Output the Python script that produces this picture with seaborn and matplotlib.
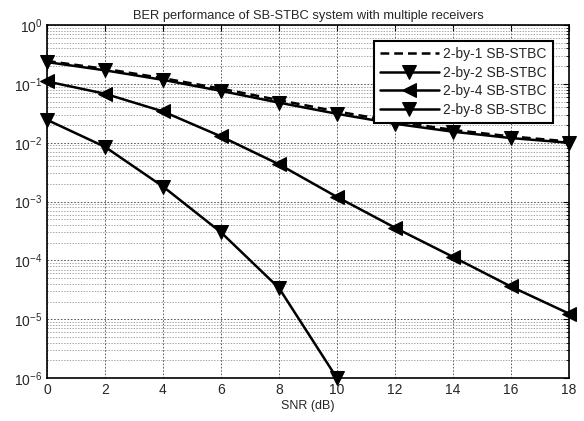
import numpy as np
import pandas as pd
import matplotlib
matplotlib.use("Agg")
import matplotlib.pyplot as plt
import matplotlib.ticker as mticker
import seaborn as sns

# SNR points (dB)
snr = [0, 2, 4, 6, 8, 10, 12, 14, 16, 18]
snr_8 = [0, 2, 4, 6, 8, 10]

# Bit error rates for each receiver configuration
ber_2x1 = [0.245, 0.18, 0.125, 0.083, 0.053, 0.034, 0.023, 0.0165, 0.0128, 0.0105]
ber_2x2 = [0.235, 0.17, 0.117, 0.076, 0.048, 0.031, 0.021, 0.0154, 0.012, 0.0100]
ber_2x4 = [0.11, 0.068, 0.034, 0.0128, 0.0043, 0.0012, 3.6e-4, 1.15e-4, 3.6e-5, 1.25e-5]
ber_2x8 = [0.0245, 0.0085, 0.0018, 3.0e-4, 3.4e-5, 1.0e-6]

labels = ["2-by-1 SB-STBC", "2-by-2 SB-STBC", "2-by-4 SB-STBC", "2-by-8 SB-STBC"]

df = pd.concat([
    pd.DataFrame({"SNR": snr, "BER": ber_2x1, "scheme": labels[0]}),
    pd.DataFrame({"SNR": snr, "BER": ber_2x2, "scheme": labels[1]}),
    pd.DataFrame({"SNR": snr, "BER": ber_2x4, "scheme": labels[2]}),
    pd.DataFrame({"SNR": snr_8, "BER": ber_2x8, "scheme": labels[3]}),
], ignore_index=True)

sns.set_style("white")
plt.rcParams["font.family"] = ["Liberation Sans", "DejaVu Sans"]
plt.rcParams["mathtext.default"] = "regular"

fig = plt.figure(figsize=(5.84, 4.21), dpi=100)
ax = fig.add_axes([0.0805, 0.102, 0.8935, 0.8385])

styles = {
    labels[0]: dict(linestyle=(0, (3.5, 2)), marker=None),
    labels[1]: dict(linestyle="-", marker="v"),
    labels[2]: dict(linestyle="-", marker="<"),
    labels[3]: dict(linestyle="-", marker="v"),
}

for name in labels:
    sub = df[df["scheme"] == name]
    st = styles[name]
    sns.lineplot(data=sub, x="SNR", y="BER", ax=ax, color="black",
                 linewidth=1.8, linestyle=st["linestyle"], marker=st["marker"],
                 markersize=9.5, markeredgecolor="black", markerfacecolor="black",
                 label=name, clip_on=False, zorder=3)

ax.set_yscale("log")
ax.set_xlim(0, 18)
ax.set_ylim(1e-6, 1)
ax.set_xticks(range(0, 19, 2))
ax.yaxis.set_major_locator(mticker.LogLocator(base=10, numticks=10))
ax.yaxis.set_minor_locator(mticker.LogLocator(base=10, subs=np.arange(2, 10), numticks=20))
ax.yaxis.set_minor_formatter(mticker.NullFormatter())

ax.grid(True, which="major", axis="both", color="#444444", linestyle=(0, (2, 2)), linewidth=0.6)
ax.grid(True, which="minor", axis="y", color="#808080", linestyle=(0, (2, 2)), linewidth=0.5)

ax.tick_params(which="both", direction="in", top=True, right=True, labelsize=10, color="black")
ax.tick_params(which="major", length=4)
ax.tick_params(which="minor", length=2)
for s in ax.spines.values():
    s.set_color("black")
    s.set_linewidth(1.2)

ax.set_xlabel("SNR (dB)", fontsize=9, labelpad=2)
ax.set_ylabel("")
ax.set_title("BER performance of SB-STBC system with multiple receivers", fontsize=9.3, pad=4)

leg = ax.legend(loc="upper right", bbox_to_anchor=(0.969, 0.955), fontsize=10,
                frameon=True, fancybox=False, edgecolor="black", framealpha=1,
                handlelength=4.2, handletextpad=0.3, labelspacing=0.32,
                borderpad=0.45, borderaxespad=0)
leg.get_frame().set_linewidth(1.5)

fig.savefig("out.png", dpi=100)
